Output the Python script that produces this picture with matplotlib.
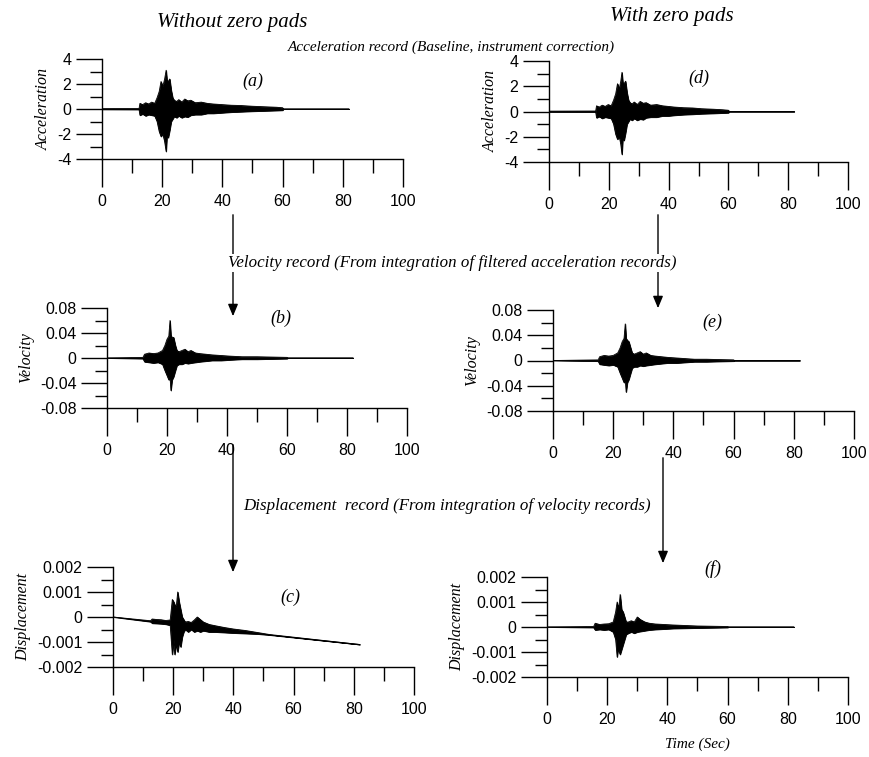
import matplotlib
matplotlib.use("Agg")
import matplotlib.pyplot as plt
from matplotlib.ticker import MultipleLocator

plt.rcParams['axes.unicode_minus'] = False
plt.rcParams['font.family'] = 'Liberation Sans'

# ---- data: envelopes of each record (time in sec) ----
# (a) acceleration, without zero pads
t_a = [0, 12.3, 12.6, 13.5, 14.5, 15.5, 16.5, 17.5, 18.3, 19.0, 19.6, 20.2, 20.8, 21.3, 21.6, 22.0,
       22.5, 23.0, 23.5, 24.0, 24.8, 25.5, 26.5, 27.5, 28.5, 29.5, 31, 33, 35, 37, 40, 43, 46, 50,
       54, 58, 60, 60.3, 82]
up_a = [0.03, 0.04, 0.45, 0.35, 0.5, 0.4, 0.55, 0.45, 0.9, 1.4, 2.2, 1.8, 2.4, 3.1, 2.3, 2.2,
        2.4, 1.5, 0.9, 0.7, 0.6, 0.75, 0.55, 0.8, 0.65, 0.7, 0.5, 0.55, 0.45, 0.4, 0.35, 0.3, 0.28, 0.22,
        0.18, 0.14, 0.1, 0.0, 0.0]
lo_a = [-0.03, -0.04, -0.5, -0.4, -0.55, -0.45, -0.5, -0.55, -1.0, -1.8, -2.2, -2.0, -2.6, -3.4, -2.1, -2.3,
        -1.7, -1.0, -0.8, -0.6, -0.7, -0.55, -0.7, -0.6, -0.65, -0.5, -0.45, -0.45, -0.35, -0.35, -0.3, -0.25, -0.22, -0.18,
        -0.15, -0.12, -0.1, 0.0, 0.0]

# (d) acceleration, with zero pads
t_d = [0, 15.6, 15.9, 16.8, 17.8, 18.8, 19.8, 20.8, 21.6, 22.3, 22.9, 23.5, 24.0, 24.4, 24.7, 25.1,
       25.6, 26.1, 26.6, 27.1, 27.8, 28.5, 29.5, 30.5, 31.5, 32.5, 34, 36, 38, 40, 42, 45, 48, 51,
       55, 58, 60, 60.3, 82]
up_d = [0.03, 0.04, 0.45, 0.35, 0.5, 0.4, 0.55, 0.45, 0.9, 1.4, 2.2, 1.8, 2.4, 3.1, 2.3, 2.2,
        2.4, 1.5, 0.9, 0.7, 0.6, 0.75, 0.55, 0.8, 0.65, 0.7, 0.5, 0.55, 0.45, 0.4, 0.35, 0.3, 0.28, 0.22,
        0.18, 0.14, 0.1, 0.0, 0.0]
lo_d = [-0.03, -0.04, -0.5, -0.4, -0.55, -0.45, -0.5, -0.55, -1.0, -1.8, -2.2, -2.0, -2.6, -3.4, -2.1, -2.3,
        -1.7, -1.0, -0.8, -0.6, -0.7, -0.55, -0.7, -0.6, -0.65, -0.5, -0.45, -0.45, -0.35, -0.35, -0.3, -0.25, -0.22, -0.18,
        -0.15, -0.12, -0.1, 0.0, 0.0]

# (b) velocity, without zero pads
t_b = [0, 12.0, 12.5, 14, 15.5, 17, 18.5, 19.3, 20, 20.6, 21.0, 21.3, 21.7, 22.2, 22.8, 23.3,
       24, 25, 26, 27, 28, 29.5, 31, 33, 35, 38, 41, 45, 50, 55, 60, 60.3, 82]
up_b = [0, 0.001, 0.006, 0.008, 0.007, 0.008, 0.012, 0.02, 0.03, 0.035, 0.06, 0.037, 0.032, 0.033, 0.02, 0.012,
        0.01, 0.012, 0.014, 0.01, 0.012, 0.008, 0.007, 0.006, 0.005, 0.004, 0.003, 0.002, 0.002, 0.0015, 0.001, 0, 0]
lo_b = [0, -0.001, -0.006, -0.007, -0.008, -0.007, -0.01, -0.02, -0.028, -0.035, -0.03, -0.052, -0.035, -0.03, -0.02, -0.012,
        -0.01, -0.01, -0.008, -0.009, -0.008, -0.007, -0.006, -0.005, -0.004, -0.004, -0.003, -0.002, -0.002, -0.0015, -0.001, 0, 0]

# (e) velocity, with zero pads
t_e = [0, 15.0, 15.5, 17, 18.5, 20, 21.5, 22.3, 23, 23.6, 24.0, 24.3, 24.7, 25.2, 25.8, 26.3,
       27, 28, 29, 30, 31, 32.5, 34, 36, 38, 41, 44, 47, 51, 55, 60, 60.3, 82]
up_e = [0, 0.001, 0.006, 0.008, 0.007, 0.008, 0.012, 0.02, 0.03, 0.035, 0.058, 0.035, 0.032, 0.03, 0.02, 0.012,
        0.01, 0.012, 0.014, 0.01, 0.012, 0.008, 0.007, 0.006, 0.005, 0.004, 0.003, 0.002, 0.002, 0.0015, 0.001, 0, 0]
lo_e = [0, -0.001, -0.006, -0.007, -0.008, -0.007, -0.01, -0.02, -0.028, -0.035, -0.03, -0.05, -0.035, -0.03, -0.02, -0.012,
        -0.01, -0.01, -0.008, -0.009, -0.008, -0.007, -0.006, -0.005, -0.004, -0.004, -0.003, -0.002, -0.002, -0.0015, -0.001, 0, 0]

# (c) displacement, without zero pads (drifting baseline)
t_c = [0, 12.5, 13, 14.5, 16, 17.5, 19, 19.7, 20.2, 20.5, 21.0, 21.5, 22.0, 22.5, 23.0, 23.5,
       24.0, 25, 26, 27, 28, 29, 30, 32, 34, 37, 40, 44, 48, 52, 82]
up_c = [0, -0.00015, -0.00008, -0.0001, -0.00011, -0.00014, -0.00012, 0.0007, 0.0006, 0.0005, 0.0004, 0.001, 0.0006, 0.0003, 0.0, -0.0001,
        -0.0002, -0.00018, -0.00022, -0.00012, 0.0, -0.0001, -0.0002, -0.0003, -0.00035, -0.00042, -0.00048, -0.00054, -0.00062, -0.0007, -0.0011]
lo_c = [0, -0.00019, -0.00025, -0.00026, -0.00027, -0.00029, -0.00033, -0.0015, -0.0009, -0.0015, -0.0011, -0.0014, -0.001, -0.0012, -0.0008, -0.0006,
        -0.0005, -0.0006, -0.0005, -0.0006, -0.00055, -0.0006, -0.00055, -0.0006, -0.0006, -0.00062, -0.00064, -0.00066, -0.00068, -0.00072, -0.0011]

# (f) displacement, with zero pads
t_f = [0, 15.5, 16, 17.5, 19, 20.5, 22, 22.8, 23.3, 23.6, 24.0, 24.3, 24.8, 25.3, 25.8, 26.3,
       27, 28, 29, 30, 31, 32.5, 34, 36, 39, 42, 46, 50, 55, 60, 60.3, 82]
up_f = [0, 0.00002, 0.00015, 0.0001, 0.00012, 0.00013, 0.0002, 0.0006, 0.001, 0.0008, 0.0009, 0.0013, 0.0007, 0.0006, 0.0004, 0.0002,
        0.0002, 0.00025, 0.0002, 0.0004, 0.0003, 0.0002, 0.00015, 0.00012, 0.0001, 0.00008, 0.00006, 0.00004, 0.00003, 0.00002, 0, 0]
lo_f = [0, -0.00002, -0.00012, -0.0001, -0.00012, -0.0001, -0.0002, -0.0005, -0.0012, -0.0009, -0.001, -0.0011, -0.0009, -0.0007, -0.0005, -0.0003,
        -0.00025, -0.0002, -0.00025, -0.0002, -0.00018, -0.00015, -0.00012, -0.0001, -0.00008, -0.00006, -0.00005, -0.00004, -0.00003, -0.00002, 0, 0]

acc_ticks = [-4, -2, 0, 2, 4]
acc_labels = ['-4', '-2', '0', '2', '4']
vel_ticks = [-0.08, -0.04, 0, 0.04, 0.08]
vel_labels = ['-0.08', '-0.04', '0', '0.04', '0.08']
dis_ticks = [-0.002, -0.001, 0, 0.001, 0.002]
dis_labels = ['-0.002', '-0.001', '0', '0.001', '0.002']

SERIF = 'Liberation Serif'
W, H = 870, 757


def box(left, right, top, bottom):
    return [left / W, 1 - bottom / H, (right - left) / W, (bottom - top) / H]


def fp(x, y):
    return (x / W, 1 - y / H)


def draw_panel(ax, t, up, lo, ticks, labels, ylabel, letter, letter_xy):
    ax.fill_between(t, lo, up, color='black', linewidth=0.6)
    ax.plot(t, up, color='black', lw=0.6)
    ax.plot(t, lo, color='black', lw=0.6)
    ax.set_xlim(0, 100)
    ax.set_ylim(ticks[0], ticks[-1])
    for s in ['top', 'right']:
        ax.spines[s].set_visible(False)
    for s in ['left', 'bottom']:
        ax.spines[s].set_linewidth(1)
    ax.set_xticks([0, 20, 40, 60, 80, 100])
    ax.xaxis.set_minor_locator(MultipleLocator(10))
    ax.set_yticks(ticks)
    ax.set_yticklabels(labels)
    ax.set_yticks([(a + b) / 2 for a, b in zip(ticks[:-1], ticks[1:])], minor=True)
    ax.tick_params(axis='x', which='major', direction='out', length=20, width=1, pad=5, labelsize=11.5)
    ax.tick_params(axis='x', which='minor', direction='out', length=10, width=1)
    ax.tick_params(axis='y', which='major', direction='out', length=19, width=1, pad=3, labelsize=11.5)
    ax.tick_params(axis='y', which='minor', direction='out', length=9, width=1)
    ax.set_ylabel(ylabel, fontfamily=SERIF, fontstyle='italic', fontsize=11.5, labelpad=4)
    ax.text(letter_xy[0], letter_xy[1], letter, fontfamily=SERIF, fontstyle='italic',
            fontsize=13, ha='center', va='center', clip_on=False)


fig = plt.figure(figsize=(8.7, 7.57), dpi=100)

ax_a = fig.add_axes(box(102, 403, 59, 159))
ax_d = fig.add_axes(box(549, 848, 61, 162))
ax_b = fig.add_axes(box(107, 407, 308, 408))
ax_e = fig.add_axes(box(553, 854, 310, 411))
ax_c = fig.add_axes(box(113, 414, 567, 667))
ax_f = fig.add_axes(box(547, 848, 577, 677))

draw_panel(ax_a, t_a, up_a, lo_a, acc_ticks, acc_labels, 'Acceleration', '(a)', (50, 2.2))
draw_panel(ax_d, t_d, up_d, lo_d, acc_ticks, acc_labels, 'Acceleration', '(d)', (50, 2.6))
draw_panel(ax_b, t_b, up_b, lo_b, vel_ticks, vel_labels, 'Velocity', '(b)', (58, 0.064))
draw_panel(ax_e, t_e, up_e, lo_e, vel_ticks, vel_labels, 'Velocity', '(e)', (53, 0.06))
draw_panel(ax_c, t_c, up_c, lo_c, dis_ticks, dis_labels, 'Displacement', '(c)', (59, 0.0008))
draw_panel(ax_f, t_f, up_f, lo_f, dis_ticks, dis_labels, 'Displacement', '(f)', (55, 0.0023))
ax_f.set_xlabel('Time (Sec)', fontfamily=SERIF, fontstyle='italic', fontsize=11, labelpad=8)

# column headings
fig.text(*fp(232, 23), 'Without zero pads', fontfamily=SERIF, fontstyle='italic', fontsize=15,
         ha='center', va='center')
fig.text(*fp(672, 17), 'With zero pads', fontfamily=SERIF, fontstyle='italic', fontsize=15,
         ha='center', va='center')

# arrows between the stages
for x, y0, y1 in [(233, 212, 319), (658, 212, 311), (233, 442, 575), (663, 455, 566)]:
    fig.add_artist(matplotlib.patches.FancyArrowPatch(
        fp(x, y0), fp(x, y1), transform=fig.transFigure,
        arrowstyle='-|>,head_length=0.6,head_width=0.25', mutation_scale=12, lw=1, color='black'))

box_kw = dict(facecolor='white', edgecolor='none', pad=1)
fig.text(*fp(451, 47), 'Acceleration record (Baseline, instrument correction)', fontfamily=SERIF,
         fontstyle='italic', fontsize=11, ha='center', va='center')
fig.text(*fp(452, 263), 'Velocity record (From integration of filtered acceleration records)',
         fontfamily=SERIF, fontstyle='italic', fontsize=12.2, ha='center', va='center', bbox=box_kw)
fig.text(*fp(447, 506), 'Displacement  record (From integration of velocity records)',
         fontfamily=SERIF, fontstyle='italic', fontsize=12.2, ha='center', va='center', bbox=box_kw)

fig.savefig('out.png', dpi=100)
